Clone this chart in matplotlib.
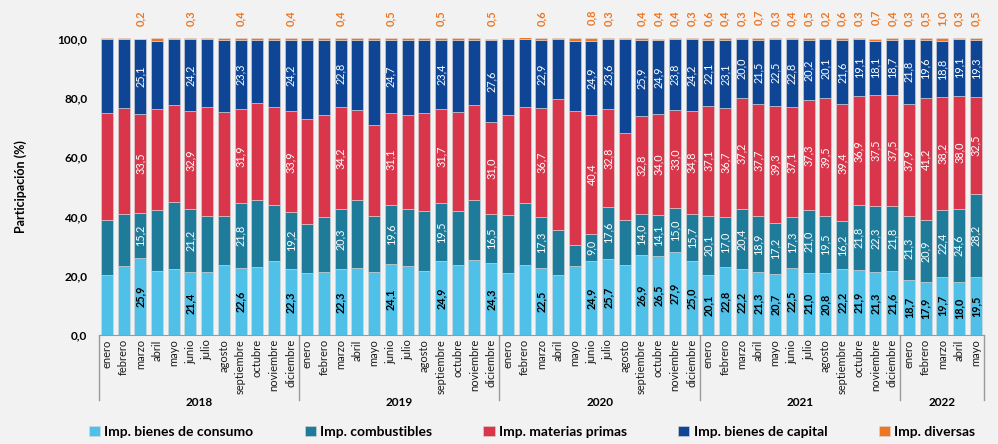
import matplotlib.pyplot as plt
import numpy as np

plt.rcParams['font.family'] = ['Lato', 'DejaVu Sans']

meses = ['enero', 'febrero', 'marzo', 'abril', 'mayo', 'junio', 'julio', 'agosto',
         'septiembre', 'octubre', 'noviembre', 'diciembre']
anios = ['2018', '2019', '2020', '2021', '2022']
meses_por_anio = [12, 12, 12, 12, 5]

consumo = [
    20.1, 23.4, 25.9, 21.6, 22.3, 21.4, 21.2, 23.7, 22.6, 22.8, 24.8, 22.3,
    20.8, 21.2, 22.3, 22.5, 21.1, 24.1, 23.2, 21.6, 24.9, 23.7, 25.3, 24.3,
    21.0, 23.6, 22.5, 20.2, 23.2, 24.9, 25.7, 23.5, 26.9, 26.5, 27.9, 25.0,
    20.1, 22.8, 22.2, 21.3, 20.7, 22.5, 21.0, 20.8, 22.2, 21.9, 21.3, 21.6,
    18.7, 17.9, 19.7, 18.0, 19.5]
combustibles = [
    18.6, 17.4, 15.2, 20.4, 22.7, 21.2, 18.9, 16.4, 21.8, 22.8, 19.1, 19.2,
    16.5, 18.6, 20.3, 23.1, 19.1, 19.6, 19.2, 20.2, 19.5, 18.2, 20.3, 16.5,
    19.4, 20.8, 17.3, 15.2, 7.2, 9.0, 17.6, 15.3, 14.0, 14.1, 15.0, 15.7,
    20.1, 17.0, 20.4, 18.9, 17.2, 17.3, 21.0, 19.5, 16.2, 21.8, 22.3, 21.8,
    21.3, 20.9, 22.4, 24.6, 28.2]
materias = [
    36.1, 35.7, 33.5, 34.2, 32.5, 32.9, 36.7, 35.1, 31.9, 32.6, 32.9, 33.9,
    35.5, 34.4, 34.2, 30.3, 30.5, 31.1, 31.7, 33.2, 31.7, 33.2, 31.9, 31.0,
    33.7, 32.6, 36.7, 44.1, 45.1, 40.4, 32.8, 29.4, 32.8, 34.0, 33.0, 34.8,
    37.1, 36.7, 37.2, 37.7, 39.3, 37.1, 37.3, 39.5, 39.4, 36.9, 37.5, 37.5,
    37.9, 41.2, 38.2, 38.0, 32.5]
capital = [
    24.9, 23.2, 25.1, 23.0, 22.2, 24.2, 22.9, 24.4, 23.3, 21.4, 22.8, 24.2,
    26.8, 25.4, 22.8, 23.7, 28.9, 24.7, 25.5, 24.6, 23.4, 24.5, 22.1, 27.6,
    25.6, 22.8, 22.9, 20.2, 23.8, 24.9, 23.6, 31.5, 25.9, 24.9, 23.8, 24.2,
    22.1, 23.1, 20.0, 21.5, 22.5, 22.8, 20.2, 20.1, 21.6, 19.1, 18.1, 18.7,
    21.8, 19.6, 18.8, 19.1, 19.3]
diversas = [
    0.3, 0.3, 0.2, 0.8, 0.3, 0.3, 0.3, 0.4, 0.4, 0.4, 0.4, 0.4,
    0.4, 0.4, 0.4, 0.4, 0.4, 0.5, 0.4, 0.4, 0.5, 0.4, 0.4, 0.5,
    0.3, 0.6, 0.6, 0.3, 0.7, 0.8, 0.3, 0.3, 0.4, 0.4, 0.4, 0.3,
    0.6, 0.4, 0.3, 0.7, 0.3, 0.4, 0.5, 0.2, 0.6, 0.3, 0.7, 0.4,
    0.3, 0.5, 1.0, 0.3, 0.5]

# bars that carry data labels in the original
etiquetados = [2, 5, 8, 11, 14, 17, 20, 23, 26, 29, 30, 32, 33, 34, 35] + list(range(36, 53))

series = [
    ('Imp. bienes de consumo', consumo, '#4FC1E9', 'black'),
    ('Imp. combustibles', combustibles, '#1E7B9A', 'white'),
    ('Imp. materias primas', materias, '#D9364B', 'white'),
    ('Imp. bienes de capital', capital, '#0E4595', 'white'),
    ('Imp. diversas', diversas, '#EE7623', None),
]

def fmt(v):
    return f'{v:.1f}'.replace('.', ',')

bg = '#f2f2f2'
fig = plt.figure(figsize=(9.98, 4.44), dpi=100, facecolor=bg)
ax = fig.add_axes([0.0987, 0.2455, 0.8873, 0.6678], facecolor=bg)

n = len(consumo)
x = np.arange(n)
bottom = np.zeros(n)
for nombre, vals, color, tcolor in series:
    vals = np.array(vals)
    ax.bar(x, vals, bottom=bottom, width=0.72, color=color, label=nombre,
           edgecolor='#d8d8d8', linewidth=0.4)
    for i in etiquetados:
        if tcolor is None:
            ax.text(x[i], 107, fmt(vals[i]), rotation=90, ha='center', va='center',
                    color='#EE7623', fontsize=8, fontweight='bold', clip_on=False)
        else:
            ax.text(x[i], bottom[i] + vals[i] / 2, fmt(vals[i]), rotation=90,
                    ha='center', va='center', color=tcolor, fontsize=7.8,
                    fontweight='bold' if tcolor == 'black' else 'normal')
    bottom += vals

ax.set_xlim(-0.5, n - 0.5)
ax.set_ylim(0, 100)
ax.set_yticks(np.arange(0, 101, 20))
ax.set_yticklabels([fmt(v) for v in np.arange(0, 101, 20)], fontsize=8.5, fontweight='bold')
ax.tick_params(axis='y', length=0, pad=8)
ax.set_ylabel('Participación (%)', fontsize=9, fontweight='bold', labelpad=22)
for s in ['top', 'right', 'left']:
    ax.spines[s].set_visible(False)
ax.spines['bottom'].set_color('#9a9a9a')

# two-level category axis
etiquetas = []
for k in meses_por_anio:
    etiquetas += meses[:k]
ax.set_xticks(x)
ax.set_xticklabels(etiquetas, rotation=90, fontsize=8, color='#1a1a1a')
ax.tick_params(axis='x', length=0, pad=3)

trans = ax.get_xaxis_transform()
bordes = np.cumsum([0] + meses_por_anio) - 0.5
for b in bordes:
    ax.plot([b, b], [0, -0.22], transform=trans, color='#9a9a9a', lw=1, clip_on=False)
for j, anio in enumerate(anios):
    centro = (bordes[j] + bordes[j + 1]) / 2
    ax.text(centro, -0.227, anio, transform=trans, ha='center', va='center',
            fontsize=8.5, fontweight='bold')

fig.legend(loc='lower center', bbox_to_anchor=(0.533, -0.014), ncol=5, frameon=False,
           prop={'weight': 'bold', 'size': 10}, handlelength=0.8,
           handleheight=0.8, handletextpad=0.3, columnspacing=3.7)

fig.savefig('out.png', dpi=100, facecolor=bg)
